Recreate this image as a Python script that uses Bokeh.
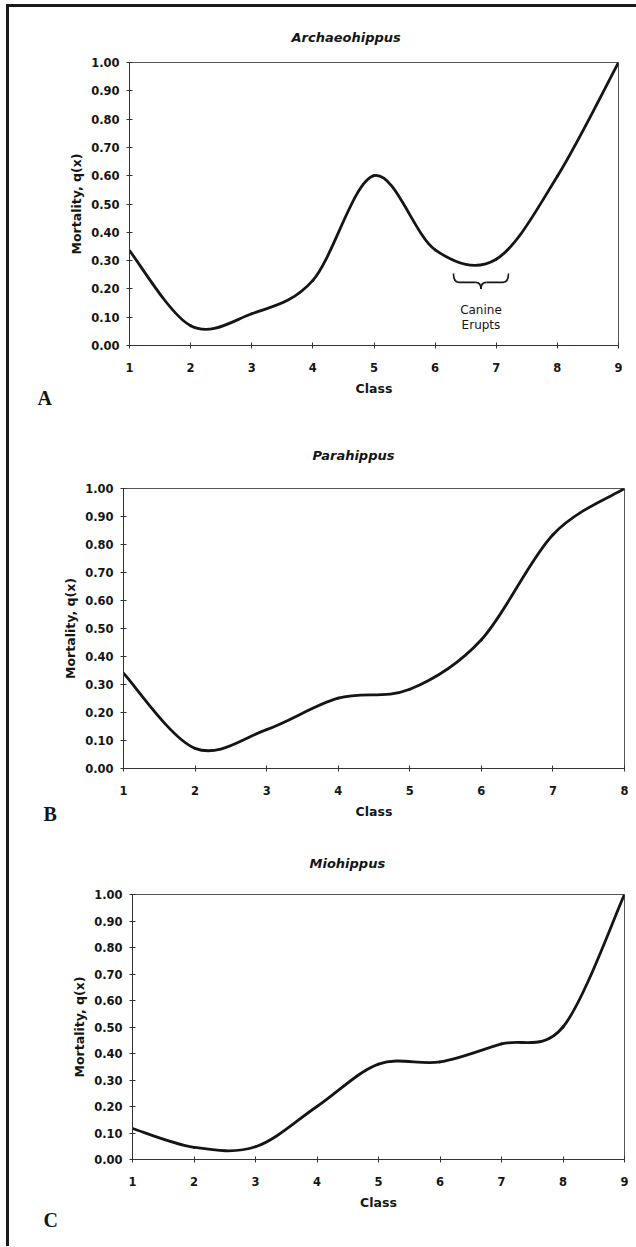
from bokeh.plotting import figure
from bokeh.layouts import column
from bokeh.models import Range1d, FixedTicker, PrintfTickFormatter, Label, ColumnDataSource, Title
from bokeh.embed import file_html
from bokeh.resources import INLINE

# ---------------- data ----------------
classes_a = [1, 2, 3, 4, 5, 6, 7, 8, 9]
mortality_a = [0.335, 0.070, 0.112, 0.230, 0.600, 0.338, 0.305, 0.598, 1.00]

classes_b = [1, 2, 3, 4, 5, 6, 7, 8]
mortality_b = [0.340, 0.072, 0.139, 0.251, 0.283, 0.460, 0.835, 1.00]

classes_c = [1, 2, 3, 4, 5, 6, 7, 8, 9]
mortality_c = [0.117, 0.046, 0.048, 0.200, 0.360, 0.368, 0.436, 0.500, 1.00]

y_ticks = [0.0, 0.1, 0.2, 0.3, 0.4, 0.5, 0.6, 0.7, 0.8, 0.9, 1.0]
titles = ["Archaeohippus", "Parahippus", "Miohippus"]
panel_letters = ["A", "B", "C"]
y_label = "Mortality, q(x)"
x_label = "Class"
note_lines = ["Canine", "Erupts"]
brace_from, brace_to = 6.30, 7.20   # span of classes marked by the brace

FONT = "DejaVu Sans"
INK = "#151515"


def smooth_segments(xs, ys):
    """Bezier segments through every data point (smoothed-line rendering)."""
    n = len(xs)
    d = dict(x0=[], y0=[], x1=[], y1=[], cx0=[], cy0=[], cx1=[], cy1=[])
    for i in range(n - 1):
        xp, yp = (xs[i - 1], ys[i - 1]) if i > 0 else (xs[i], ys[i])
        xn, yn = (xs[i + 2], ys[i + 2]) if i + 2 < n else (xs[i + 1], ys[i + 1])
        d["x0"].append(xs[i]); d["y0"].append(ys[i])
        d["x1"].append(xs[i + 1]); d["y1"].append(ys[i + 1])
        d["cx0"].append(xs[i] + (xs[i + 1] - xp) / 6.0)
        d["cy0"].append(ys[i] + (ys[i + 1] - yp) / 6.0)
        d["cx1"].append(xs[i + 1] - (xn - xs[i]) / 6.0)
        d["cy1"].append(ys[i + 1] - (yn - ys[i]) / 6.0)
    return ColumnDataSource(d)


def make_panel(classes, mort, title, letter, height, left, right, top, bottom,
               title_offset, title_standoff, letter_offset, letter_standoff):
    p = figure(width=627, height=height, output_backend="svg", toolbar_location=None,
               x_range=Range1d(classes[0], classes[-1]), y_range=Range1d(0, 1),
               min_border_left=left, min_border_right=right,
               min_border_top=top, min_border_bottom=bottom,
               background_fill_color="white", border_fill_color="white")
    p.frame_align = False
    p.grid.visible = False
    p.outline_line_color = "#555555"
    p.outline_line_width = 1

    for ax in (p.xaxis[0], p.yaxis[0]):
        ax.axis_line_color = "#333333"
        ax.major_tick_line_color = "#333333"
        ax.major_tick_in = 3
        ax.major_tick_out = 3
        ax.minor_tick_line_color = None
        ax.major_label_text_font = FONT
        ax.major_label_text_font_style = "bold"
        ax.major_label_text_font_size = "11.5px"
        ax.major_label_text_color = INK
        ax.axis_label_text_font = FONT
        ax.axis_label_text_font_style = "bold"
        ax.axis_label_text_font_size = "12.5px"
        ax.axis_label_text_color = INK

    p.xaxis.ticker = FixedTicker(ticks=classes)
    p.xaxis.axis_label = x_label
    p.xaxis.major_label_standoff = 14
    p.xaxis.axis_label_standoff = 6

    p.yaxis.ticker = FixedTicker(ticks=y_ticks)
    p.yaxis.formatter = PrintfTickFormatter(format="%.2f")
    p.yaxis.axis_label = y_label
    p.yaxis.major_label_standoff = 7
    p.yaxis.axis_label_standoff = 4

    p.bezier(x0="x0", y0="y0", x1="x1", y1="y1", cx0="cx0", cy0="cy0",
             cx1="cx1", cy1="cy1", source=smooth_segments(classes, mort),
             line_color=INK, line_width=2.8, line_cap="round")

    p.title.text = title
    p.title.align = "left"
    p.title.offset = title_offset
    p.title.standoff = title_standoff
    p.title.text_font = FONT
    p.title.text_font_style = "bold italic"
    p.title.text_font_size = "13px"
    p.title.text_color = INK

    p.add_layout(Title(text=letter, align="left", offset=letter_offset,
                       standoff=letter_standoff, vertical_align="top",
                       text_font="Liberation Serif", text_font_style="bold",
                       text_font_size="20px", text_color=INK), "below")
    return p


pA = make_panel(classes_a, mortality_a, titles[0], panel_letters[0],
                404, 120, 18, 55, 66, 162, 36, -92, -24)
pB = make_panel(classes_b, mortality_b, titles[1], panel_letters[1],
                417, 114, 12, 77, 60, 189, 52, -80, -38)
pC = make_panel(classes_c, mortality_c, titles[2], panel_letters[2],
                418, 123, 12, 66, 87, 177, 48, -89, -8)

# brace + note on panel A
b_top, b_bar, b_tip, rx = 0.254, 0.223, 0.200, 0.09
mid = (brace_from + brace_to) / 2
qs = ColumnDataSource(dict(
    x0=[brace_from, mid - rx, mid, brace_to - rx],
    y0=[b_top, b_bar, b_tip, b_bar],
    x1=[brace_from + rx, mid, mid + rx, brace_to],
    y1=[b_bar, b_tip, b_bar, b_top],
    cx=[brace_from, mid, mid, brace_to],
    cy=[b_bar, b_bar, b_bar, b_bar]))
pA.quadratic(x0="x0", y0="y0", x1="x1", y1="y1", cx="cx", cy="cy", source=qs,
             line_color=INK, line_width=1.6)
pA.segment(x0=[brace_from + rx, mid + rx], y0=[b_bar, b_bar],
           x1=[mid - rx, brace_to - rx], y1=[b_bar, b_bar],
           line_color=INK, line_width=1.6)
for txt, yy in zip(note_lines, [0.127, 0.071]):
    pA.add_layout(Label(x=mid, y=yy, text=txt, text_font=FONT, text_font_size="12px",
                        text_color=INK, text_align="center", text_baseline="middle"))

layout = column(pA, pB, pC, spacing=0,
                styles={"border-top": "3px solid #1a1a1a",
                        "border-left": "3px solid #1a1a1a",
                        "margin-left": "6px", "margin-top": "4px",
                        "background": "white"})

open("out.html", "w").write(file_html(layout, INLINE))
